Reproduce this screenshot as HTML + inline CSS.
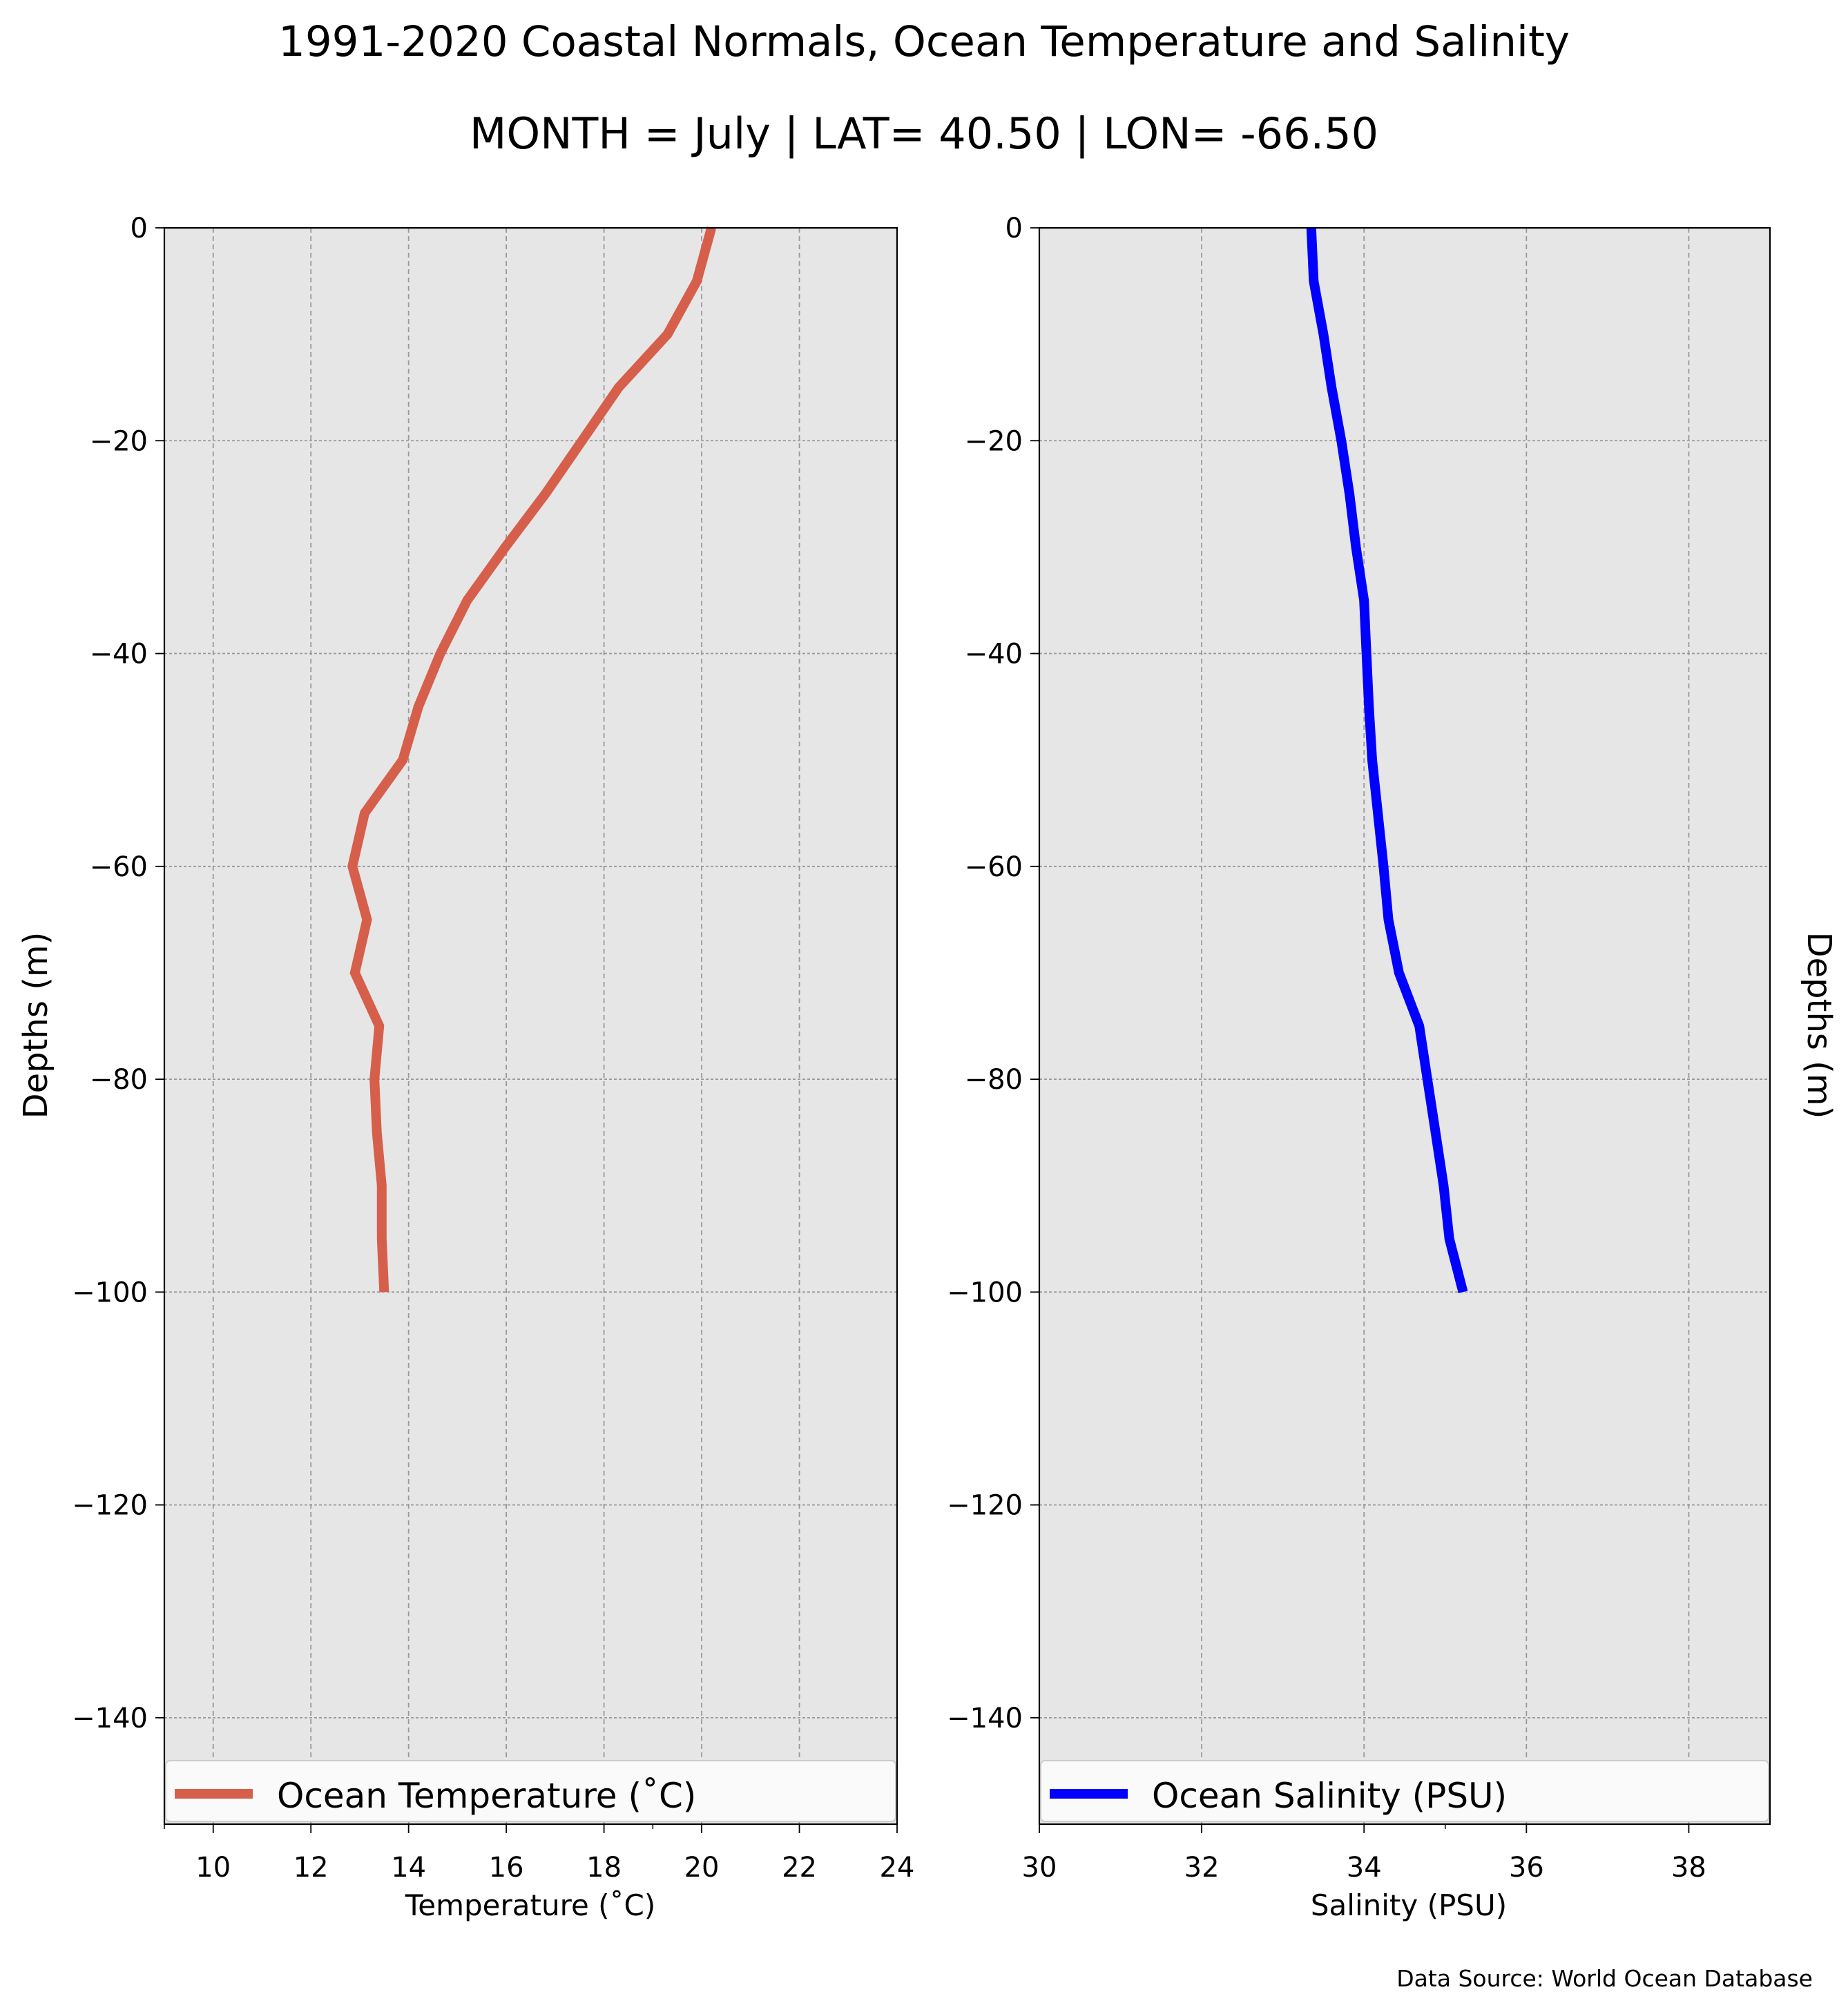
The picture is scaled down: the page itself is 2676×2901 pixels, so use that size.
<!DOCTYPE html>
<html><head><meta charset="utf-8"><style>
body{margin:0;background:#fff;}
svg{display:block;font-family:"DejaVu Sans","Liberation Sans",sans-serif;}
</style></head><body>
<svg id="fig" width="2676" height="2901" viewBox="0 0 2676 2901">
<text x="1338" y="81" font-size="61" text-anchor="middle">1991-2020 Coastal Normals, Ocean Temperature and Salinity</text>
<text x="1338" y="215" font-size="62" text-anchor="middle">MONTH = July | LAT= 40.50 | LON= -66.50</text>
<text transform="translate(68,1485) rotate(-90)" font-size="48" text-anchor="middle">Depths (m)</text>
<text transform="translate(2618,1485) rotate(90)" font-size="48" text-anchor="middle">Depths (m)</text>
<text x="768" y="2774" font-size="42" text-anchor="middle">Temperature (˚C)</text>
<text x="2040" y="2774" font-size="42" text-anchor="middle">Salinity (PSU)</text>
<text x="2625" y="2877" font-size="33" text-anchor="end">Data Source: World Ocean Database</text>
<g id="left"></g><g id="right"></g>
</svg>
<script>
const depths=[0,-5,-10,-15,-20,-25,-30,-35,-40,-45,-50,-55,-60,-65,-70,-75,-80,-85,-90,-95,-100];
const temperature=[20.2,19.9,19.3,18.3,17.55,16.8,15.98,15.2,14.65,14.2,13.88,13.1,12.85,13.15,12.9,13.4,13.3,13.35,13.45,13.45,13.5];
const salinity=[33.35,33.38,33.5,33.6,33.72,33.82,33.9,34.0,34.03,34.06,34.1,34.17,34.24,34.3,34.43,34.68,34.78,34.88,34.98,35.05,35.22];
const depthTicks=[0,-20,-40,-60,-80,-100,-120,-140];
const tempTicks=[10,12,14,16,18,20,22,24];
const salTicks=[30,32,34,36,38];
const NS="http://www.w3.org/2000/svg";
function mk(p,t,a){const e=document.createElementNS(NS,t);for(const k in a)e.setAttribute(k,a[k]);p.appendChild(e);return e;}
const Y0=330,Y1=2642;
function y(d){return Y0+(0-d)/150*(Y1-Y0);}
function panel(gid,L,R,xmin,xmax,ticks,minor,vals,color,leg,pfx){
  const g=document.getElementById(gid);
  const x=v=>L+(v-xmin)/(xmax-xmin)*(R-L);
  const bg=mk(g,'rect',{x:L,y:Y0,width:R-L,height:Y1-Y0,fill:'#e6e6e6'});
  
  
  ticks.forEach(t=>{
    const gl=mk(g,'line',{x1:x(t),x2:x(t),y1:Y0,y2:Y1,stroke:'#999',"stroke-width":1.8,"stroke-dasharray":"7,5"});
    
    
    mk(g,'line',{x1:x(t),x2:x(t),y1:Y1,y2:Y1+13,stroke:'#000',"stroke-width":1.8});
    const tl=mk(g,'text',{x:x(t),y:Y1+76,"font-size":40,"text-anchor":"middle"});
    tl.textContent=t;
    
    
  });
  minor.forEach(t=>mk(g,'line',{x1:x(t),x2:x(t),y1:Y1,y2:Y1+7,stroke:'#000',"stroke-width":1.5}));
  depthTicks.forEach(d=>{
    const gl=mk(g,'line',{x1:L,x2:R,y1:y(d),y2:y(d),stroke:'#999',"stroke-width":1.8,"stroke-dasharray":"4,3"});
    
    
    mk(g,'line',{x1:L-13,x2:L,y1:y(d),y2:y(d),stroke:'#000',"stroke-width":1.8});
    const tl=mk(g,'text',{x:L-24,y:y(d)+14,"font-size":40,"text-anchor":"end"});
    tl.textContent=d<0?'\u2212'+(-d):d;
    
    
  });
  const pts=vals.map((v,i)=>x(v).toFixed(1)+','+y(depths[i]).toFixed(1)).join(' ');
  const ln=mk(g,'polyline',{points:pts,fill:'none',stroke:color,"stroke-width":14,"stroke-linejoin":"miter"});
  
  
  const lb=mk(g,'rect',{x:L+2,y:2550,width:R-L-4,height:Y1-2554,rx:6,fill:'#fafafa',stroke:'#ccc',"stroke-width":2});
  
  
  mk(g,'line',{x1:L+15,x2:L+128,y1:2598,y2:2598,stroke:color,"stroke-width":14});
  const lt=mk(g,'text',{x:L+163,y:2618,"font-size":50});
  lt.textContent=leg;
  
  
  const fr=mk(g,'rect',{x:L,y:Y0,width:R-L,height:Y1-Y0,fill:'none',stroke:'#000',"stroke-width":2.2});
  
  
}
panel('left',238,1299,9,24,tempTicks,[9,19],temperature,'#d65f4c','Ocean Temperature (˚C)','temperature');
panel('right',1505,2563,30,39,salTicks,[35],salinity,'#0000ff','Ocean Salinity (PSU)','salinity');
</script>
</body></html>
